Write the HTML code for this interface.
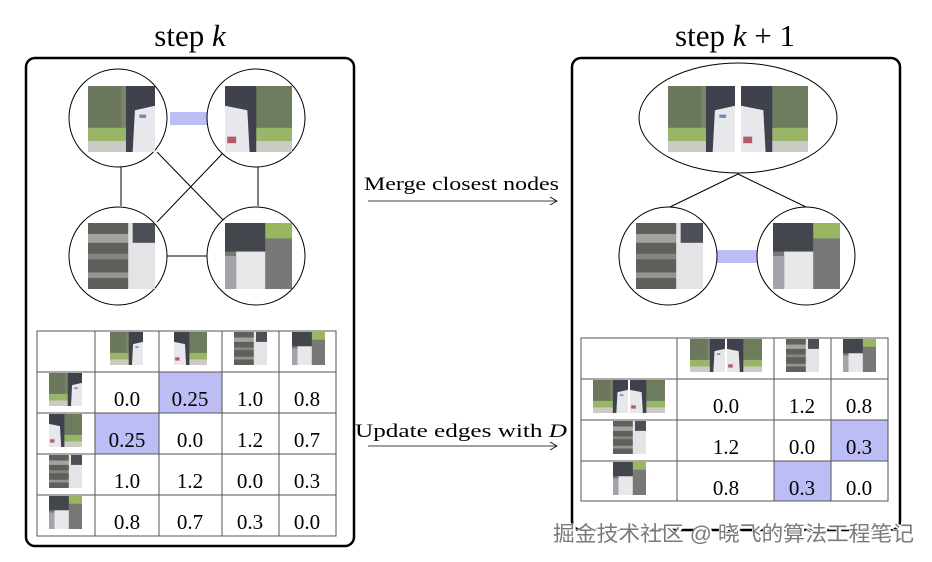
<!DOCTYPE html>
<html><head><meta charset="utf-8"><style>
html,body{margin:0;padding:0;background:#fff;}
svg{display:block;}
text{font-family:"Liberation Serif",serif;}
</style></head><body>
<svg width="932" height="562" viewBox="0 0 932 562" xmlns="http://www.w3.org/2000/svg">
<defs>
<symbol id="fA" viewBox="0 0 60 60" preserveAspectRatio="none">
<rect width="60" height="60" fill="#6f7a5c"/><rect x="0" y="0" width="30" height="38" fill="#5c6a4c"/>
<rect y="38" width="60" height="12" fill="#8eae58"/><rect y="50" width="60" height="10" fill="#c8c4be"/>
<rect x="34" width="26" height="60" fill="#2b2e3a"/><polygon points="42,22 60,18 60,60 40,60" fill="#e6e6ea"/><rect x="46" y="26" width="6" height="3" fill="#5a7fa8"/>
</symbol>
<symbol id="fB" viewBox="0 0 60 60" preserveAspectRatio="none">
<rect width="60" height="60" fill="#5e6e4c"/><rect y="38" width="60" height="12" fill="#8eae58"/><rect y="50" width="60" height="10" fill="#c8c4be"/>
<rect x="0" width="28" height="60" fill="#2b2e3a"/><polygon points="0,18 20,22 22,60 0,60" fill="#e6e6ea"/><rect x="2" y="46" width="8" height="6" fill="#b04a5a"/>
</symbol>
<symbol id="rC" viewBox="0 0 60 60" preserveAspectRatio="none">
<rect width="60" height="60" fill="#4e4f4a"/><rect y="10" width="40" height="8" fill="#9a9a94"/><rect y="28" width="40" height="5" fill="#7a7a74"/><rect y="45" width="40" height="5" fill="#8a8a84"/>
<rect x="36" width="24" height="60" fill="#e2e2e4"/><rect x="40" width="20" height="18" fill="#3a3c44"/>
</symbol>
<symbol id="rD" viewBox="0 0 60 60" preserveAspectRatio="none">
<rect width="60" height="60" fill="#6a6a68"/><rect x="36" width="24" height="14" fill="#8eb050"/>
<rect width="36" height="26" fill="#30333a"/><rect x="10" y="26" width="26" height="34" fill="#e6e6e8"/><rect x="0" y="30" width="10" height="30" fill="#9a9aa0"/>
</symbol>
</defs>

<text x="190" y="46" font-size="31" text-anchor="middle">step <tspan font-style="italic">k</tspan></text>
<text x="735" y="46" font-size="31" text-anchor="middle">step <tspan font-style="italic">k</tspan> + 1</text>

<rect x="26" y="58" width="328" height="488" rx="9" fill="none" stroke="#000" stroke-width="2.5"/>
<rect x="572" y="58" width="328" height="472" rx="9" fill="none" stroke="#000" stroke-width="2.5"/>

<g stroke="#000" stroke-width="1" fill="none">
<line x1="121" y1="167" x2="121" y2="206"/><line x1="258" y1="167" x2="258" y2="206"/>
<line x1="163" y1="256" x2="210" y2="256"/>
<line x1="157" y1="152" x2="225" y2="222"/><line x1="224" y1="152" x2="157" y2="222"/>
</g>
<rect x="170" y="112" width="40" height="13" fill="#bdbdf5"/>
<g stroke="#000" stroke-width="1" fill="#fff">
<circle cx="118" cy="118" r="49"/><circle cx="256" cy="118" r="49"/>
<circle cx="118" cy="256" r="49"/><circle cx="256" cy="256" r="49"/>
</g>
<g opacity="0.9">
<use href="#fA" x="88" y="86" width="67" height="66"/>
<use href="#fB" x="225" y="86" width="67" height="66"/>
<use href="#rC" x="88" y="223" width="67" height="66"/>
<use href="#rD" x="225" y="223" width="67" height="66"/>
</g>

<rect x="159" y="372" width="63" height="41" fill="#bdbdf5"/>
<rect x="95" y="413" width="64" height="41" fill="#bdbdf5"/>
<g stroke="#555" stroke-width="1" fill="none">
<rect x="37" y="331" width="299" height="205"/>
<line x1="95" y1="331" x2="95" y2="536"/><line x1="159" y1="331" x2="159" y2="536"/><line x1="222" y1="331" x2="222" y2="536"/><line x1="279" y1="331" x2="279" y2="536"/>
<line x1="37" y1="372" x2="336" y2="372"/><line x1="37" y1="413" x2="336" y2="413"/><line x1="37" y1="454" x2="336" y2="454"/><line x1="37" y1="495" x2="336" y2="495"/>
</g>
<g opacity="0.9">
<use href="#fA" x="110" y="332" width="33" height="33"/>
<use href="#fB" x="174" y="332" width="33" height="33"/>
<use href="#rC" x="234" y="332" width="33" height="33"/>
<use href="#rD" x="292" y="332" width="33" height="33"/>
<use href="#fA" x="49" y="373" width="33" height="33"/>
<use href="#fB" x="49" y="414" width="33" height="33"/>
<use href="#rC" x="49" y="455" width="33" height="33"/>
<use href="#rD" x="49" y="496" width="33" height="33"/>
</g>
<g font-size="21" text-anchor="middle">
<text x="127" y="406">0.0</text><text x="190" y="406">0.25</text><text x="250" y="406">1.0</text><text x="307" y="406">0.8</text>
<text x="127" y="447">0.25</text><text x="190" y="447">0.0</text><text x="250" y="447">1.2</text><text x="307" y="447">0.7</text>
<text x="127" y="488">1.0</text><text x="190" y="488">1.2</text><text x="250" y="488">0.0</text><text x="307" y="488">0.3</text>
<text x="127" y="529">0.8</text><text x="190" y="529">0.7</text><text x="250" y="529">0.3</text><text x="307" y="529">0.0</text>
</g>

<g stroke="#000" stroke-width="0.8" fill="none">
<line x1="368" y1="201" x2="556" y2="201"/><polyline points="550,197 557,201 550,205"/>
<line x1="368" y1="446" x2="556" y2="446"/><polyline points="550,442 557,446 550,450"/>
</g>
<text x="364" y="190" font-size="19" textLength="195" lengthAdjust="spacingAndGlyphs">Merge closest nodes</text>
<text x="355" y="437" font-size="19" textLength="212" lengthAdjust="spacingAndGlyphs">Update edges with <tspan font-style="italic">D</tspan></text>

<g stroke="#000" stroke-width="1" fill="none">
<line x1="738" y1="174" x2="670" y2="207"/><line x1="738" y1="174" x2="806" y2="207"/>
</g>
<ellipse cx="738" cy="118" rx="99" ry="55" fill="#fff" stroke="#000" stroke-width="1"/>
<rect x="716" y="250" width="42" height="13" fill="#bdbdf5"/>
<g stroke="#000" stroke-width="1" fill="#fff">
<circle cx="668" cy="256" r="49"/><circle cx="806" cy="256" r="49"/>
</g>
<g opacity="0.9">
<use href="#fA" x="668" y="86" width="67" height="66"/>
<use href="#fB" x="741" y="86" width="67" height="66"/>
<use href="#rC" x="636" y="223" width="67" height="66"/>
<use href="#rD" x="773" y="223" width="67" height="66"/>
</g>

<rect x="831" y="420" width="57" height="41" fill="#bdbdf5"/>
<rect x="774" y="461" width="57" height="40" fill="#bdbdf5"/>
<g stroke="#555" stroke-width="1" fill="none">
<rect x="581" y="338" width="307" height="163"/>
<line x1="677" y1="338" x2="677" y2="501"/><line x1="774" y1="338" x2="774" y2="501"/><line x1="831" y1="338" x2="831" y2="501"/>
<line x1="581" y1="379" x2="888" y2="379"/><line x1="581" y1="420" x2="888" y2="420"/><line x1="581" y1="461" x2="888" y2="461"/>
</g>
<g opacity="0.9">
<use href="#fA" x="690" y="339" width="35" height="33"/>
<use href="#fB" x="727" y="339" width="35" height="33"/>
<use href="#rC" x="786" y="339" width="33" height="33"/>
<use href="#rD" x="843" y="339" width="33" height="33"/>
<use href="#fA" x="593" y="380" width="35" height="33"/>
<use href="#fB" x="630" y="380" width="35" height="33"/>
<use href="#rC" x="613" y="421" width="33" height="33"/>
<use href="#rD" x="613" y="462" width="33" height="33"/>
</g>
<g font-size="21" text-anchor="middle">
<text x="726" y="413">0.0</text><text x="802" y="413">1.2</text><text x="859" y="413">0.8</text>
<text x="726" y="454">1.2</text><text x="802" y="454">0.0</text><text x="859" y="454">0.3</text>
<text x="726" y="495">0.8</text><text x="802" y="495">0.3</text><text x="859" y="495">0.0</text>
</g>

<text x="554" y="542" font-size="21" fill="#fff" stroke="#fff" stroke-width="3" textLength="361" lengthAdjust="spacingAndGlyphs" style='font-family:"Liberation Sans","Noto Sans CJK SC",sans-serif'>掘金技术社区 @ 晓飞的算法工程笔记</text>
<text x="553" y="541" font-size="21" fill="#7a7a7a" textLength="361" lengthAdjust="spacingAndGlyphs" style='font-family:"Liberation Sans","Noto Sans CJK SC",sans-serif'>掘金技术社区 @ 晓飞的算法工程笔记</text>
</svg>
</body></html>
